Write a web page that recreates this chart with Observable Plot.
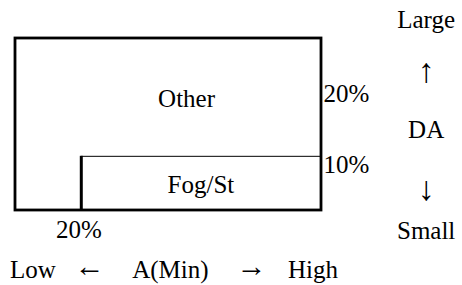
<!DOCTYPE html>
<html>
<head>
<meta charset="utf-8">
<script src="https://cdn.jsdelivr.net/npm/d3@7"></script>
<script src="https://cdn.jsdelivr.net/npm/@observablehq/plot@0.6"></script>
<style>
  html, body { margin: 0; padding: 0; background: #fff; }
</style>
</head>
<body>
<div id="chart"></div>
<script>
// Frame (A on x, DA on y), in relative units 0..100
const boxX = [0, 100];
const boxY = [0, 100];
// Fog/St region boundaries
const fogX = [21.5, 100];
const fogY = [0, 31.5];

// Region labels
const regionNames = ["Other", "Fog/St"];
const regionX = [55.9, 60.6];
const regionY = [64.8, 14.8];

// Threshold labels on the right (DA) and bottom (A)
const daTickLabels = ["20%", "10%"];
const daTickY = [67.7, 26.5];
const aTickLabels = ["20%"];
const aTickX = [20.75];

// DA axis legend (right)
const daWords = ["Large", "DA", "Small"];
const daWordsY = [110.8, 46.8, -12.2];
const daArrows = ["↑", "↓"];
const daArrowsY = [80.8, 12.5];
// A axis legend (bottom)
const aWords = ["Low", "A(Min)", "High"];
const aWordsX = [5.7, 50.6, 97.2];
const aArrows = ["←", "→"];
const aArrowsX = [24.2, 77.1];

const font = "'Liberation Serif', 'DejaVu Serif', serif";
const fs = 25;
const vArrowFs = 34;
const hArrowFs = 30;
const legendX = 134.2;
const bottomY = -34.6;
const aTickYPos = -11.6;

const chart = Plot.plot({
  width: 462,
  height: 285,
  marginLeft: 15,
  marginRight: 141,
  marginTop: 38,
  marginBottom: 75,
  x: {domain: boxX, axis: null},
  y: {domain: boxY, axis: null},
  style: {fontFamily: font, background: "#fff", color: "#000"},
  marks: [
    Plot.ruleY([fogY[1]], {x1: fogX[0], x2: fogX[1], stroke: "#000", strokeWidth: 1}),
    Plot.ruleX([fogX[0]], {y1: fogY[0], y2: fogY[1], stroke: "#000", strokeWidth: 3}),
    Plot.rect([0], {x1: boxX[0], x2: boxX[1], y1: boxY[0], y2: boxY[1], fill: "none", stroke: "#000", strokeWidth: 2.8}),
    Plot.text(regionNames, {x: (d, i) => regionX[i], y: (d, i) => regionY[i], text: d => d, fontSize: fs, fill: "#000"}),
    Plot.text(daTickLabels, {x: boxX[1], y: (d, i) => daTickY[i], text: d => d, textAnchor: "start", dx: 2, fontSize: fs, fill: "#000"}),
    Plot.text(aTickLabels, {x: (d, i) => aTickX[i], y: aTickYPos, text: d => d, fontSize: fs, fill: "#000"}),
    Plot.text(daWords, {x: legendX, y: (d, i) => daWordsY[i], text: d => d, fontSize: fs, fill: "#000"}),
    Plot.text(daArrows, {x: legendX, y: (d, i) => daArrowsY[i], text: d => d, fontSize: vArrowFs, fill: "#000"}),
    Plot.text(aWords, {x: (d, i) => aWordsX[i], y: bottomY, text: d => d, fontSize: fs, fill: "#000"}),
    Plot.text(aArrows, {x: (d, i) => aArrowsX[i], y: bottomY, dy: -4, text: d => d, fontSize: hArrowFs, fill: "#000"})
  ]
});
document.getElementById("chart").appendChild(chart);
</script>
</body>
</html>
